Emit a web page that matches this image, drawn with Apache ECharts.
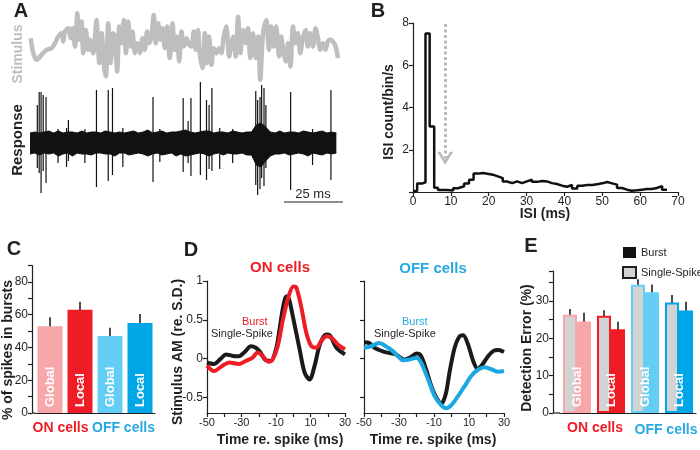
<!DOCTYPE html>
<html>
<head>
<meta charset="utf-8">
<script src="https://cdn.jsdelivr.net/npm/echarts@6/dist/echarts.min.js"></script>
<style>
  html, body { margin: 0; padding: 0; background: #fff; }
  #chart { width: 700px; height: 450px; }
</style>
</head>
<body>
<div id="chart"></div>
<script>
// ---------- A: stimulus / response traces (time in ms) ----------
const stimT = [0.3, 1.4, 2.8, 4.9, 7.1, 9.2, 10.6, 12.0, 13.4, 14.1, 14.8, 16.2, 17.2, 18.1, 19.1, 20.1, 20.9, 21.9, 22.6, 23.7,
  24.7, 25.4, 26.8, 28.2, 29.4, 30.4, 31.4, 32.2, 33.2, 34.2, 35.3, 36.0, 37.0, 37.9, 38.8, 39.8, 40.7, 41.7, 42.7, 43.5,
  44.5, 45.5, 46.6, 47.7, 48.7, 49.7, 50.6, 51.6, 52.5, 53.4, 54.4, 55.4, 56.2, 57.2, 58.2, 59.3, 60.5, 61.4, 62.4, 63.3,
  64.3, 65.3, 66.4, 67.5, 68.5, 69.5, 70.3, 71.3, 72.0, 73.2, 74.2, 75.1, 76.0, 77.0, 78.0, 79.1, 80.2, 81.2, 82.2, 83.3,
  84.5, 85.5, 86.2, 87.3, 88.3, 89.3, 90.4, 91.5, 92.5, 93.5, 94.6, 95.8, 96.8, 97.7, 98.9, 100.3, 101.4, 102.4, 103.4, 104.5,
  105.7, 106.6, 107.6, 108.5, 109.5, 110.5, 111.6, 112.7, 113.7, 114.7, 115.8, 117.0, 117.9, 118.9, 120.1, 121.2, 122.2, 123.2, 124.3, 125.4,
  126.4, 127.4, 128.5, 129.7, 130.7];
const stimV = [0.25, -0.2, -0.4, -0.25, -0.1, -0.05, 0.1, 0.3, 0.4, 0.15, 0.45, 0.55, 0.25, 0.55, 0, 1.0, 0.2, 0.75, -0.2, 0.5,
  -0.1, 0.2, -0.2, 0.8, -0.5, 0.4, -0.6, -0.9, 0.7, -0.5, 0.4, 0.3, -0.75, 0.6, 0.1, 0.8, -0.2, 0.75, 0, 0.45,
  -0.2, 0.1, -0.2, 0.25, -0.1, 0.45, 0.1, 0.35, 0.95, 0.1, 0.7, 0.2, 0.55, -0.05, 0.6, -0.35, 0.7, -0.1, 0.3, -0.45,
  0.45, 0, 0.25, 0.05, 0, 0.45, -0.1, 0.5, -0.2, -0.65, 0.4, -0.5, 0.3, -0.55, -0.05, -0.2, -0.05, -0.2, 0.3, 0.6,
  -0.3, 0.1, 0.3, -0.3, 0.9, -0.2, 0.5, 0.1, 0.55, -0.35, 0.4, -0.35, 0.3, -1.0, 0.4, 0.8, -0.1, 0.6, 0, 0.6,
  -0.3, 0.3, -0.2, -0.45, 0.1, -0.6, 0.6, 0.1, 0.4, -0.2, 0.25, 0.5, 0, 0.4, 0, 0.55, 0.25, -0.1, 0.1, -0.1,
  0.15, 0.2, 0.15, 0, -0.35];

// noise band envelope of the recording
const envT = [0, 2, 4, 6, 8, 10, 12, 14, 16, 18, 20, 22, 24, 26, 28, 30, 32, 34, 36, 38, 40, 42, 44, 46, 48, 50,
  52, 54, 56, 58, 60, 62, 64, 66, 68, 70, 72, 74, 76, 78, 80, 82, 84, 86, 88, 90, 92, 94, 96, 98, 100,
  102, 104, 106, 108, 110, 112, 114, 116, 118, 120, 122, 124, 126, 128, 130];
const envUp = [1.0, 1.1, 1.0, 1.1, 1.2, 1.0, 1.2, 1.0, 1.1, 1.1, 1.0, 1.2, 1.0, 1.1, 1.1, 1.0, 1.2, 1.1, 1.0, 1.1,
  1.0, 1.1, 1.2, 1.0, 1.1, 1.3, 1.0, 1.1, 1.2, 1.0, 1.1, 1.1, 1.2, 1.3, 1.1, 1.0, 1.1, 1.2, 1.2, 1.0,
  1.1, 1.1, 1.0, 1.2, 1.1, 1.0, 1.1, 1.1, 1.8, 2.0, 1.6, 1.1, 1.0, 1.2, 1.0, 1.1, 1.1, 1.0, 1.2, 1.1,
  1.0, 1.1, 1.2, 1.0, 1.1, 1.0];
const envDown = [-1.1, -1.0, -1.2, -1.0, -1.1, -1.0, -1.3, -1.1, -1.0, -1.3, -1.0, -1.1, -1.1, -1.2, -1.0, -1.0, -1.1, -1.1, -1.3, -1.0,
  -1.0, -1.2, -1.1, -1.0, -1.1, -1.3, -1.1, -1.0, -1.2, -1.1, -1.0, -1.3, -1.1, -1.3, -1.2, -1.1, -1.0, -1.1, -1.3, -1.1,
  -1.0, -1.2, -1.0, -1.1, -1.1, -1.0, -1.2, -1.2, -2.2, -2.4, -1.8, -1.3, -1.1, -1.1, -1.0, -1.2, -1.1, -1.0, -1.1, -1.3,
  -1.0, -1.1, -1.2, -1.0, -1.1, -1.0];

// spikes
const spikeT = [3.1, 3.9, 4.7, 5.6, 6.8, 11.9, 15.5, 16.3, 23.3, 28.2, 33.2, 35.0, 39.4, 52.2, 55.1, 65.0, 67.1, 68.3, 72.3, 74.9,
  76.0, 77.2, 80.5, 86.0, 95.8, 96.6, 97.6, 98.3, 99.3, 100.1, 110.6, 119.9, 127.7];
const spikeUp = [3.8, 5.1, 5.1, 4.8, 4.6, 1.4, 1.5, 2.3, 1.4, 5.3, 5.3, 5.5, 1.5, 4.6, 1.4, 4.5, 2.2, 4.5, 6.1, 4.3,
  3.8, 5.5, 1.5, 1.4, 5.2, 4.3, 4.6, 5.8, 5.5, 3.8, 5.1, 1.4, 5.3];
const spikeDown = [-2.5, -3.0, -5.0, -2.8, -4.0, -2.0, -2.4, -1.8, -2.0, -4.4, -3.8, -3.2, -2.4, -3.9, -1.9, -2.9, -2.0, -3.3, -3.2, -3.7,
  -2.6, -2.8, -2.6, -2.0, -4.2, -5.2, -4.6, -3.5, -4.3, -2.5, -4.7, -2.2, -3.7];

// ---------- B: ISI histogram ----------
const isiEdges = [0, 1.1, 2.4, 3.3, 4.4, 5.6, 6.6, 8.8, 10.6, 11.9, 13.5, 14.8, 16.0, 17.2, 18.5, 21.1, 22.4, 23.7, 24.8, 26.2,
  27.5, 28.8, 30.1, 31.4, 32.8, 34.1, 35.4, 36.7, 38.0, 39.4, 40.7, 42.0, 43.4, 44.7, 46.0, 47.3, 48.6, 50.0, 51.3, 52.6,
  53.9, 55.2, 56.5, 57.8, 59.2, 60.5, 61.8, 63.1, 64.4, 65.8, 67.1];
const isiCounts = [0.05, 0.4, 0.46, 7.5, 3.1, 0.2, 0.1, 0.07, 0.18, 0.27, 0.4, 0.58, 0.87, 0.9, 0.82, 0.74, 0.66, 0.5, 0.42, 0.5,
  0.42, 0.5, 0.58, 0.48, 0.52, 0.5, 0.42, 0.38, 0.3, 0.25, 0.33, 0.16, 0.3, 0.33, 0.33, 0.37, 0.41, 0.47, 0.41, 0.35,
  0.19, 0.11, 0.06, 0.08, 0.11, 0.14, 0.14, 0.19, 0.28, 0.11];
const burstThreshold = 8.5;

// ---------- C: % of spikes in bursts ----------
const cCategories = ['ON Global', 'ON Local', 'OFF Global', 'OFF Local'];
const cLabels = ['Global', 'Local', 'Global', 'Local'];
const cMean = [53, 63, 47, 55];
const cErr = [5.5, 5, 5, 5.5];

// ---------- D: spike-triggered averages ----------
const onSingleT = [-50, -46, -42, -39, -35, -31.5, -28, -24.6, -21.7, -19, -16, -13, -10, -8, -6, -4, -2.5, -0.2, 3.7, 6.6,
  9.5, 12.4, 15.4, 18.9, 21.2, 25, 30];
const onSingleV = [-0.05, -0.07, 0.0, 0.055, 0.035, 0.03, 0.09, 0.16, 0.14, 0.08, -0.02, -0.03, 0.12, 0.37, 0.65, 0.8, 0.77, 0.54, 0.12, -0.18,
  -0.27, -0.09, 0.18, 0.31, 0.3, 0.14, 0.055];
const onBurstT = [-50, -46, -41, -37, -31.5, -27.6, -23.7, -20.7, -17.8, -14.3, -12, -9, -6, -3, 0, 1.7, 4.6, 7.6, 10.5, 13.4,
  16.3, 19.3, 22, 26, 30];
const onBurstV = [-0.09, -0.16, -0.09, -0.05, -0.07, -0.03, 0.01, 0.08, 0.035, -0.04, -0.01, 0.16, 0.5, 0.78, 0.93, 0.92, 0.67, 0.33, 0.16, 0.14,
  0.23, 0.29, 0.27, 0.18, 0.12];
const offSingleT = [-50, -47, -44, -40, -36.6, -31.8, -27, -24, -20, -17.4, -14.5, -11.6, -8.7, -6, -4.9, -3, -1, 1.8, 4.7, 6.7,
  9.5, 12.4, 14.9, 17.2, 21, 24, 26.8, 30];
const offSingleV = [0.21, 0.2, 0.14, 0.1, 0.077, 0.055, -0.01, 0.01, 0.065, 0.035, -0.14, -0.35, -0.5, -0.57, -0.56, -0.43, -0.16, 0.14, 0.29, 0.3,
  0.18, -0.03, -0.13, -0.09, 0.035, 0.1, 0.11, 0.085];
const offBurstT = [-50, -46, -41.4, -37.5, -33.7, -29.8, -28, -24, -20, -17.4, -13.5, -9.7, -5.9, -3, -0.1, 3.8, 7.6, 11.4, 15.3, 19,
  23, 26.8, 30];
const offBurstV = [0.14, 0.16, 0.2, 0.16, 0.1, 0.013, -0.02, -0.01, 0.013, -0.05, -0.26, -0.48, -0.6, -0.64, -0.6, -0.48, -0.35, -0.22, -0.14, -0.11,
  -0.14, -0.17, -0.16];

// ---------- E: detection error ----------
const eCategories = ['ON Global', 'ON Local', 'OFF Global', 'OFF Local'];
const eLabels = ['Global', 'Local', 'Global', 'Local'];
const eSingleMean = [26.3, 26.0, 34.3, 29.6];
const eSingleErr = [1.5, 1.5, 1.5, 2.0];
const eBurstMean = [24.5, 22.4, 32.3, 27.4];
const eBurstErr = [2.3, 2.0, 2.1, 2.4];

// ---------- styles ----------
const FONT = 'Arial, "Liberation Sans", sans-serif';
const INK = '#231f20';
const PINK = '#f7a6a9', RED = '#ee1d25', LBLUE = '#63cdf3', BLUE = '#00a6e6';
const OFF_TXT = '#27aae1';
const barColors = [PINK, RED, LBLUE, BLUE];

const pairs = (xs, ys) => xs.map((x, i) => [x, ys[i]]);

// vertical segment from value(1) to value(2), optional pixel offset
function vSegment(offsetPx, color, width) {
  return function (params, api) {
    const lo = api.coord([api.value(0), api.value(1)]);
    const hi = api.coord([api.value(0), api.value(2)]);
    return {
      type: 'line',
      shape: { x1: lo[0] + offsetPx, y1: lo[1], x2: hi[0] + offsetPx, y2: hi[1] },
      style: { stroke: color, lineWidth: width }
    };
  };
}

function txt(text, x, y, o) {
  o = o || {};
  const al = o.align || 'center';
  return {
    type: 'text', x: x, y: y, rotation: o.rot ? Math.PI / 2 : 0, silent: true,
    style: {
      text: text, fill: o.color || INK,
      font: (o.bold ? 'bold ' : '') + (o.size || 13) + 'px ' + FONT,
      align: al, verticalAlign: 'middle', textAlign: al, textVerticalAlign: 'middle'
    }
  };
}

const axLine = { show: true, onZero: false, lineStyle: { color: INK, width: 1.2 } };
const axTick = { show: true, length: 4, lineStyle: { color: INK, width: 1.2 } };
const axLabel = { color: INK, fontSize: 12, fontFamily: FONT, margin: 4 };
const noSplit = { show: false };

// histogram as step outline
const isiData = isiCounts.map((c, i) => [isiEdges[i], c]);
isiData.push([isiEdges[isiEdges.length - 1], isiCounts[isiCounts.length - 1]]);

const dLabelVals = [-50, -30, -10, 10, 30];

const option = {
  animation: false,
  textStyle: { fontFamily: FONT },
  grid: [
    { left: 30, top: 10, width: 308, height: 73, outerBoundsMode: 'none' },      // A stimulus
    { left: 30, top: 80, width: 308, height: 120, outerBoundsMode: 'none' },     // A response
    { left: 413, top: 23, width: 265, height: 169, outerBoundsMode: 'none' },    // B
    { left: 35, top: 265.6, width: 120, height: 147.4, outerBoundsMode: 'none' },// C
    { left: 207, top: 281, width: 138, height: 132, outerBoundsMode: 'none' },   // D on
    { left: 364, top: 281, width: 140, height: 132, outerBoundsMode: 'none' },   // D off
    { left: 560, top: 271, width: 136, height: 142, outerBoundsMode: 'none' }    // E
  ],
  legend: {
    data: ['Burst', 'Single-Spike'],
    orient: 'vertical', left: 622, top: 247, padding: 0,
    itemWidth: 13, itemHeight: 11, itemGap: 8, icon: 'rect', selectedMode: false,
    textStyle: { fontSize: 11, color: INK, fontFamily: FONT }
  },
  xAxis: [
    { gridIndex: 0, type: 'value', min: 0, max: 130.7, show: false },
    { gridIndex: 1, type: 'value', min: 0, max: 130.7, show: false },
    { gridIndex: 2, type: 'value', min: 0, max: 70, interval: 10, axisLine: axLine, axisTick: axTick,
      axisLabel: axLabel, splitLine: noSplit },
    { gridIndex: 3, type: 'category', data: cCategories, axisLine: axLine, axisTick: { show: false },
      axisLabel: { show: false } },
    { gridIndex: 4, type: 'value', min: -50, max: 30, interval: 10, axisLine: axLine, axisTick: axTick,
      axisLabel: Object.assign({}, axLabel, { fontSize: 11, formatter: v => dLabelVals.includes(v) ? String(v) : '' }),
      splitLine: noSplit },
    { gridIndex: 5, type: 'value', min: -50, max: 30, interval: 10, axisLine: axLine, axisTick: axTick,
      axisLabel: Object.assign({}, axLabel, { fontSize: 11, formatter: v => dLabelVals.includes(v) ? String(v) : '' }),
      splitLine: noSplit },
    { gridIndex: 6, type: 'category', data: eCategories, axisLine: axLine, axisTick: { show: false },
      axisLabel: { show: false } }
  ],
  yAxis: [
    { gridIndex: 0, type: 'value', min: -1.1, max: 1.1, show: false },
    { gridIndex: 1, type: 'value', min: -5.7, max: 6.3, show: false },
    { gridIndex: 2, type: 'value', min: 0, max: 8, interval: 2, axisLine: axLine, axisTick: axTick,
      axisLabel: Object.assign({}, axLabel, { formatter: v => v === 0 ? '' : String(v) }), splitLine: noSplit },
    { gridIndex: 3, type: 'value', min: 0, max: 90, interval: 10, offset: 3, axisLine: axLine, axisTick: axTick,
      axisLabel: Object.assign({}, axLabel, { formatter: v => v % 20 === 0 ? String(v) : '' }), splitLine: noSplit },
    { gridIndex: 4, type: 'value', min: -0.7, max: 1, axisLine: axLine,
      axisTick: Object.assign({}, axTick, { customValues: [-0.5, 0, 0.5, 1] }),
      axisLabel: Object.assign({}, axLabel, { customValues: [-0.5, 0, 0.5, 1] }), splitLine: noSplit },
    { gridIndex: 5, type: 'value', min: -0.7, max: 1, axisLine: axLine,
      axisTick: Object.assign({}, axTick, { customValues: [-0.5, 0, 0.5, 1] }),
      axisLabel: { show: false }, splitLine: noSplit },
    { gridIndex: 6, type: 'value', min: 0, max: 38, interval: 5, offset: 7, axisLine: axLine, axisTick: axTick,
      axisLabel: Object.assign({}, axLabel, { formatter: v => v % 10 === 0 ? String(v) : '' }), splitLine: noSplit }
  ],
  series: [
    // A
    { type: 'line', xAxisIndex: 0, yAxisIndex: 0, data: pairs(stimT, stimV), showSymbol: false, smooth: 0.3,
      lineStyle: { color: '#bcbec0', width: 4.5 } },
    { type: 'line', xAxisIndex: 1, yAxisIndex: 1, data: pairs(envT, envUp), showSymbol: false,
      lineStyle: { color: '#111', width: 1 }, areaStyle: { color: '#111', opacity: 1 } },
    { type: 'line', xAxisIndex: 1, yAxisIndex: 1, data: pairs(envT, envDown), showSymbol: false,
      lineStyle: { color: '#111', width: 1 }, areaStyle: { color: '#111', opacity: 1 } },
    { type: 'custom', xAxisIndex: 1, yAxisIndex: 1, encode: { x: 0, y: [1, 2] },
      data: spikeT.map((t, i) => [t, spikeDown[i], spikeUp[i]]), renderItem: vSegment(0, '#111', 1.2) },
    // B
    { type: 'line', xAxisIndex: 2, yAxisIndex: 2, data: isiData, step: 'end', showSymbol: false,
      lineStyle: { color: '#111', width: 2.5 },
      markLine: {
        silent: true, symbol: 'none',
        label: { show: false }, emphasis: { disabled: true },
        lineStyle: { color: '#b8babd', width: 3, type: [3, 2.5] },
        data: [[{ coord: [burstThreshold, 7.95] }, { coord: [burstThreshold, 1.6] }]]
      },
      markPoint: {
        silent: true, symbol: 'path://M0,0 L4,0 L10,8 L16,0 L20,0 L10,13 Z', symbolSize: [16, 13],
        itemStyle: { color: '#b8babd' }, label: { show: false },
        data: [{ coord: [burstThreshold, 1.6] }]
      } },
    // C
    { type: 'bar', xAxisIndex: 3, yAxisIndex: 3, barWidth: 25,
      data: cMean.map((v, i) => ({ value: v, itemStyle: { color: barColors[i] } })),
      label: { show: true, position: 'insideBottom', rotate: 90, align: 'left', verticalAlign: 'middle',
        distance: 6, color: '#fff', fontWeight: 'bold', fontSize: 13, formatter: p => cLabels[p.dataIndex] } },
    { type: 'custom', xAxisIndex: 3, yAxisIndex: 3, encode: { x: 0, y: [1, 2] },
      data: cMean.map((v, i) => [i, v - cErr[i], v + cErr[i]]), renderItem: vSegment(0, '#111', 1.5) },
    // D
    { type: 'line', xAxisIndex: 4, yAxisIndex: 4, data: pairs(onSingleT, onSingleV), showSymbol: false, smooth: 0.3,
      lineStyle: { color: '#1a1a1a', width: 4 } },
    { type: 'line', xAxisIndex: 4, yAxisIndex: 4, data: pairs(onBurstT, onBurstV), showSymbol: false, smooth: 0.3,
      lineStyle: { color: RED, width: 4 } },
    { type: 'line', xAxisIndex: 5, yAxisIndex: 5, data: pairs(offSingleT, offSingleV), showSymbol: false, smooth: 0.3,
      lineStyle: { color: '#1a1a1a', width: 4 } },
    { type: 'line', xAxisIndex: 5, yAxisIndex: 5, data: pairs(offBurstT, offBurstV), showSymbol: false, smooth: 0.3,
      lineStyle: { color: '#1ba8e0', width: 4 } },
    // E
    { name: 'Single-Spike', type: 'bar', xAxisIndex: 6, yAxisIndex: 6, barWidth: 14, barGap: '0%',
      itemStyle: { color: '#d1d3d4', borderColor: INK, borderWidth: 1.5 },
      data: eSingleMean.map((v, i) => ({ value: v, itemStyle: { color: '#d1d3d4', borderColor: barColors[i], borderWidth: 2 } })) },
    { name: 'Burst', type: 'bar', xAxisIndex: 6, yAxisIndex: 6, barWidth: 14, barGap: '0%',
      itemStyle: { color: '#111' },
      data: eBurstMean.map((v, i) => ({ value: v, itemStyle: { color: barColors[i] } })) },
    { type: 'custom', xAxisIndex: 6, yAxisIndex: 6, encode: { x: 0, y: [1, 2] },
      data: eSingleMean.map((v, i) => [i, v - eSingleErr[i], v + eSingleErr[i]]), renderItem: vSegment(-7, '#111', 1.5) },
    { type: 'custom', xAxisIndex: 6, yAxisIndex: 6, encode: { x: 0, y: [1, 2] },
      data: eBurstMean.map((v, i) => [i, v - eBurstErr[i], v + eBurstErr[i]]), renderItem: vSegment(7, '#111', 1.5) },
    { type: 'custom', xAxisIndex: 6, yAxisIndex: 6, encode: { x: 0, y: 1 }, z: 10,
      data: eLabels.map((l, i) => [i, 0]),
      renderItem: (params, api) => {
        const p = api.coord([api.value(0), 0]);
        return { type: 'text', x: p[0], y: p[1] - 6, rotation: Math.PI / 2,
          style: { text: eLabels[params.dataIndex], fill: '#fff', font: 'bold 13px ' + FONT,
            align: 'left', verticalAlign: 'middle' } };
      } }
  ],
  graphic: [
    // panel letters
    txt('A', 21, 11, { bold: true, size: 20 }),
    txt('B', 378, 11, { bold: true, size: 20 }),
    txt('C', 14, 249, { bold: true, size: 20 }),
    txt('D', 191, 250, { bold: true, size: 20 }),
    txt('E', 531, 246, { bold: true, size: 20 }),
    // A
    txt('Stimulus', 18, 54, { bold: true, size: 14, rot: true, color: '#bcbec0' }),
    txt('Response', 18, 140, { bold: true, size: 15, rot: true }),
    { type: 'line', silent: true, shape: { x1: 284, y1: 202, x2: 343, y2: 202 }, style: { stroke: INK, lineWidth: 1.2 } },
    txt('25 ms', 313, 194, { size: 13 }),
    // B
    txt('ISI count/bin/s', 389, 112, { bold: true, size: 14, rot: true }),
    txt('ISI (ms)', 545, 214, { bold: true, size: 14 }),
    // C
    txt('% of spikes in bursts', 8.5, 350, { bold: true, size: 14, rot: true }),
    { type: 'line', silent: true, shape: { x1: 32, y1: 413, x2: 35, y2: 413 }, style: { stroke: INK, lineWidth: 1.2 } },
    txt('ON cells', 60.5, 428, { bold: true, size: 14, color: RED }),
    txt('OFF cells', 123.5, 428, { bold: true, size: 14, color: OFF_TXT }),
    // D
    txt('Stimulus AM (re. S.D.)', 178, 352, { bold: true, size: 14, rot: true }),
    txt('ON cells', 280, 268, { bold: true, size: 15, color: RED }),
    txt('OFF cells', 433, 269, { bold: true, size: 15, color: OFF_TXT }),
    txt('Burst', 242, 322, { size: 11, color: RED, align: 'left' }),
    txt('Single-Spike', 211, 334, { size: 11, align: 'left' }),
    txt('Burst', 402, 322, { size: 11, color: OFF_TXT, align: 'left' }),
    txt('Single-Spike', 374, 334, { size: 11, align: 'left' }),
    txt('Time re. spike (ms)', 280, 440, { bold: true, size: 14 }),
    txt('Time re. spike (ms)', 433, 440, { bold: true, size: 14 }),
    // E
    txt('Detection Error (%)', 527, 348, { bold: true, size: 14, rot: true }),
    { type: 'line', silent: true, shape: { x1: 553, y1: 413, x2: 560, y2: 413 }, style: { stroke: INK, lineWidth: 1.2 } },
    txt('ON cells', 595, 428, { bold: true, size: 14, color: RED }),
    txt('OFF cells', 666, 430, { bold: true, size: 14, color: OFF_TXT })
  ]
};

const chart = echarts.init(document.getElementById('chart'));
chart.setOption(option);
</script>
</body>
</html>
